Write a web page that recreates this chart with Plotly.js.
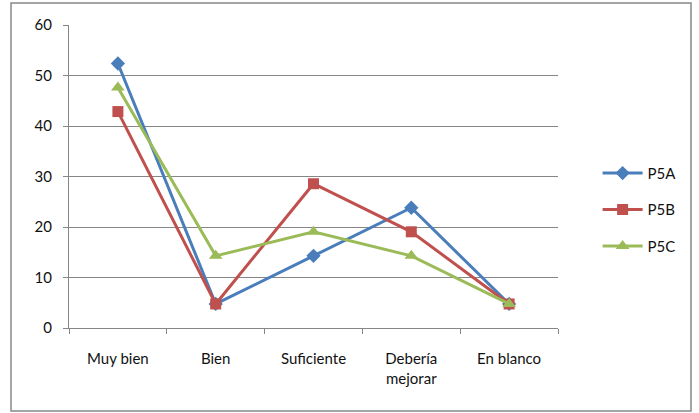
<!DOCTYPE html>
<html><head><meta charset="utf-8">
<script src="https://cdn.plot.ly/plotly-3.0.1.min.js"></script>
<style>body{margin:0;background:#fff}#c{width:699px;height:413px}</style>
</head><body><div id="c"></div>
<script>
const categories = ["Muy bien", "Bien", "Suficiente", "Debería<br>mejorar", "En blanco"];
const p5a = [52.38, 4.76, 14.29, 23.81, 4.76];
const p5b = [42.86, 4.76, 28.57, 19.05, 4.76];
const p5c = [47.62, 14.29, 19.05, 14.29, 4.76];
const yTicks = [0, 10, 20, 30, 40, 50, 60];

const font = {family: "Lato, 'Open Sans', sans-serif", size: 15, color: "#111"};
const mk = (name, y, color, symbol, size) => ({
  type: "scatter", mode: "lines+markers", name, legendgroup: name, x: categories, y,
  line: {color, width: 3},
  marker: {color, symbol, size, line: {width: 0}}
});
const data = [
  mk("P5A", p5a, "#4A7EBB", "diamond", 11),
  mk("P5B", p5b, "#C0504D", "square", 11),
  mk("P5C", p5c, "#9BBB59", "triangle-up", 12)
];
const layout = {
  width: 699, height: 413,
  margin: {l: 69, r: 141, t: 25, b: 85},
  paper_bgcolor: "#fff", plot_bgcolor: "#fff",
  font,
  showlegend: true,
  legend: {x: 1.081, y: 0.39, xanchor: "left", yanchor: "middle", font, traceorder: "grouped", tracegroupgap: 14, itemwidth: 40, bgcolor: "rgba(0,0,0,0)"},
  xaxis: {
    type: "category", range: [-0.5, 4.5], tickson: "boundaries",
    ticks: "outside", ticklen: 5, tickcolor: "#868686", showgrid: false, ticklabelstandoff: 17,
    showline: true, linecolor: "#868686", linewidth: 1, tickfont: font, zeroline: false
  },
  yaxis: {
    range: [0, 60], tickvals: yTicks, ticks: "outside", ticklen: 5, tickcolor: "#868686",
    showgrid: true, gridcolor: "#868686", gridwidth: 1, ticklabelstandoff: 8,
    showline: true, linecolor: "#868686", linewidth: 1, zeroline: false, tickfont: font
  },
  shapes: [{
    type: "rect", xref: "paper", yref: "paper",
    x0: -0.1186, x1: 1.272, y0: -0.274, y1: 1.0726,
    line: {color: "#888", width: 1.5}
  }]
};
Plotly.newPlot("c", data, layout, {displayModeBar: false, staticPlot: true});
</script></body></html>
